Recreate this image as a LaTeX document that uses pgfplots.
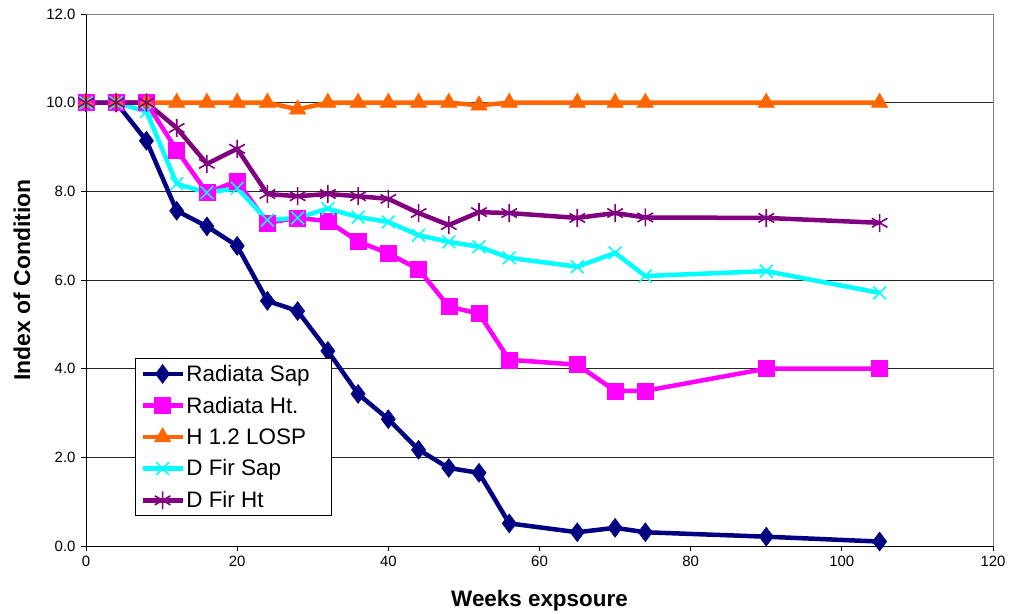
\documentclass[border=0pt]{standalone}
\usepackage{pgfplots}
\pgfplotsset{compat=1.18}
\usepackage{fontspec}
\setmainfont{Liberation Sans}
\definecolor{cNavy}{HTML}{000080}
\definecolor{cMag}{HTML}{FF00FF}
\definecolor{cOrange}{HTML}{FF6600}
\definecolor{cCyan}{HTML}{00FFFF}
\definecolor{cPurple}{HTML}{800080}
\begin{document}
\begin{tikzpicture}
\useasboundingbox (-86bp,-68bp) rectangle (924bp,546bp);
\begin{axis}[
  scale only axis, width=907bp, height=532bp,
  xmin=0, xmax=120, ymin=0, ymax=12,
  xtick={0,20,...,120}, ytick={0,2,...,12},
  axis lines=left, axis line style={-, black, line width=0.9bp},
  clip=false,
  ymajorgrids, grid style={black!85, line width=0.8bp},
  tick align=outside, major tick length=5bp,
  tick style={black, line width=0.8bp},
  /pgf/number format/assume math mode=true,
  yticklabel style={/pgf/number format/.cd, fixed, fixed zerofill, precision=1, /tikz/.cd, font=\fontsize{15}{15}\selectfont, xshift=-2bp},
  xticklabel style={font=\fontsize{15}{15}\selectfont, yshift=-2bp},
  xlabel={Weeks expsoure}, ylabel={Index of Condition},
  xlabel style={font=\bfseries\fontsize{22.5}{22.5}\selectfont, at={(axis description cs:0.5,-0.103)}, anchor=center},
  ylabel style={font=\bfseries\fontsize{23}{23}\selectfont, at={(axis description cs:-0.0706,0.5)}, anchor=center, rotate=0},
  legend style={at={(0.054,0.353)}, anchor=north west, draw=black, line width=0.8bp, fill=white,
    font=\fontsize{22.5}{26}\selectfont, inner sep=5bp, row sep=11bp, nodes={inner sep=1.5bp}},
  legend cell align=left,
  legend image code/.code={\draw[mark repeat=2,mark phase=2] plot coordinates {(0bp,0bp)(20bp,0bp)(40bp,0bp)};},
  every axis plot/.append style={line width=4.5bp},
]
\addplot[color=cNavy, mark=diamond*, mark size=9.5bp, mark options={solid, line width=0.5bp}] coordinates {
(0,10)(4,10)(8,9.14)(12,7.56)(16,7.21)(20,6.77)(24,5.53)(28,5.30)(32,4.40)(36,3.43)(40,2.86)(44,2.17)(48,1.76)(52,1.65)(56,0.51)(65,0.31)(70,0.41)(74,0.31)(90,0.21)(105,0.10)};
\addlegendentry{Radiata Sap\hspace*{15bp}}
\addplot[color=cMag, mark=square*, mark size=8bp, mark options={solid, line width=0.5bp}] coordinates {
(0,10)(4,10)(8,10)(12,8.93)(16,7.97)(20,8.23)(24,7.29)(28,7.40)(32,7.33)(36,6.87)(40,6.60)(44,6.24)(48,5.40)(52,5.24)(56,4.20)(65,4.09)(70,3.50)(74,3.50)(90,4.0)(105,4.0)};
\addlegendentry{Radiata Ht.}
\addplot[color=cOrange, mark=triangle*, mark size=9.5bp, mark options={solid, line width=0.5bp}] coordinates {
(0,10)(4,10)(8,10)(12,10)(16,10)(20,10)(24,10)(28,9.85)(32,10)(36,10)(40,10)(44,10)(48,10)(52,9.94)(56,10)(65,10)(70,10)(74,10)(90,10)(105,10)};
\addlegendentry{H 1.2 LOSP}
\addplot[color=cCyan, mark=x, mark size=9bp, mark options={solid, line width=1.6bp}] coordinates {
(0,10)(4,10)(8,9.8)(12,8.17)(16,7.97)(20,8.07)(24,7.35)(28,7.40)(32,7.61)(36,7.42)(40,7.31)(44,7.01)(48,6.86)(52,6.75)(56,6.50)(65,6.30)(70,6.61)(74,6.09)(90,6.20)(105,5.71)};
\addlegendentry{D Fir Sap}
\addplot[color=cPurple, mark=asterisk, mark size=9bp, mark options={solid, line width=1.6bp}] coordinates {
(0,10)(4,10)(8,10)(12,9.43)(16,8.62)(20,8.96)(24,7.94)(28,7.89)(32,7.94)(36,7.89)(40,7.83)(44,7.51)(48,7.24)(52,7.53)(56,7.51)(65,7.40)(70,7.51)(74,7.41)(90,7.40)(105,7.29)};
\addlegendentry{D Fir Ht}
\draw[gray, line width=0.9bp] (rel axis cs:0,1) -- (rel axis cs:1,1) -- (rel axis cs:1,0);
\end{axis}
\end{tikzpicture}
\end{document}
